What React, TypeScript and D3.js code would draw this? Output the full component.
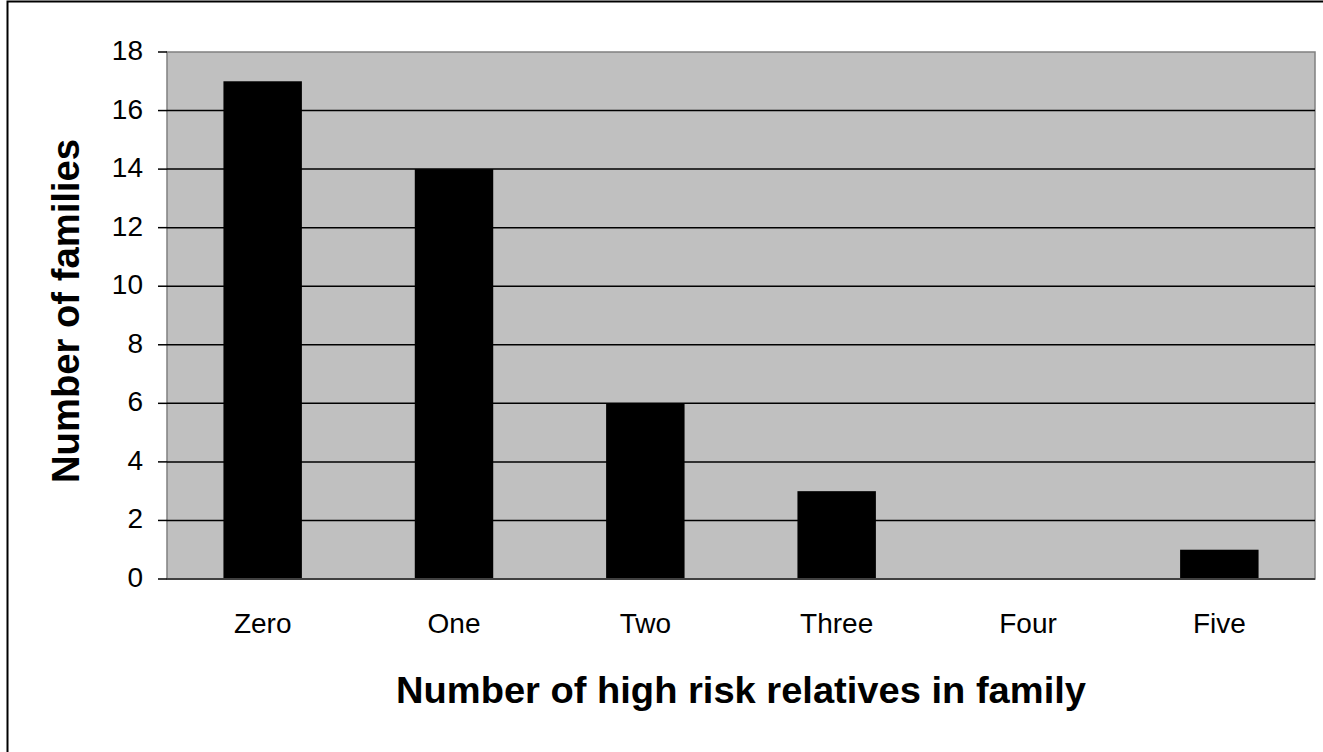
import React from "react";
import * as d3 from "d3";

const categories = ["Zero", "One", "Two", "Three", "Four", "Five"];
const families = [17, 14, 6, 3, 0, 1];
const yTicks = [0, 2, 4, 6, 8, 10, 12, 14, 16, 18];
const xTitle = "Number of high risk relatives in family";
const yTitle = "Number of families";

export default function App() {
  const W = 1323, H = 752;
  const left = 167, right = 1315, top = 52, bottom = 579;
  const x = d3.scaleBand<string>().domain(categories).range([left, right]).paddingInner(0.59).paddingOuter(0.295);
  const y = d3.scaleLinear().domain([0, 18]).range([bottom, top]);
  const font = "'Liberation Sans', Arial, sans-serif";
  return (
    <svg width={W} height={H} style={{ position: "absolute", left: 0, top: 0, background: "#fff" }}>
      <rect x={7.5} y={1.5} width={W + 10} height={H + 10} fill="#fff" stroke="#000" strokeWidth={2} />
      <rect x={left} y={top} width={right - left} height={bottom - top} fill="#c0c0c0" stroke="#808080" strokeWidth={1.5} />
      {yTicks.map((t) => (
        <g key={t}>
          {t > 0 && t < 18 && (
            <line x1={left} x2={right} y1={y(t)} y2={y(t)} stroke="#000" strokeWidth={1.5} />
          )}
          <line x1={158} x2={left} y1={y(t)} y2={y(t)} stroke="#000" strokeWidth={1.5} />
          <text x={143} y={y(t) + 8} textAnchor="end" fontFamily={font} fontSize={28} fill="#000">{t}</text>
        </g>
      ))}
      {categories.map((c, i) => (
        <g key={c}>
          {families[i] > 0 && (
            <rect x={x(c)} y={y(families[i])} width={x.bandwidth()} height={bottom - y(families[i])} fill="#000" />
          )}
          <text x={(x(c) as number) + x.bandwidth() / 2} y={633} textAnchor="middle" fontFamily={font} fontSize={28} fill="#000">{c}</text>
        </g>
      ))}
      <line x1={left} x2={right} y1={bottom} y2={bottom} stroke="#404040" strokeWidth={2} />
      <text x={741} y={703} textAnchor="middle" fontFamily={font} fontWeight="bold" fontSize={37} textLength={690} lengthAdjust="spacingAndGlyphs" fill="#000">{xTitle}</text>
      <text transform={`translate(79,311) rotate(-90)`} textAnchor="middle" fontFamily={font} fontWeight="bold" fontSize={38} textLength={344} lengthAdjust="spacingAndGlyphs" fill="#000">{yTitle}</text>
    </svg>
  );
}
